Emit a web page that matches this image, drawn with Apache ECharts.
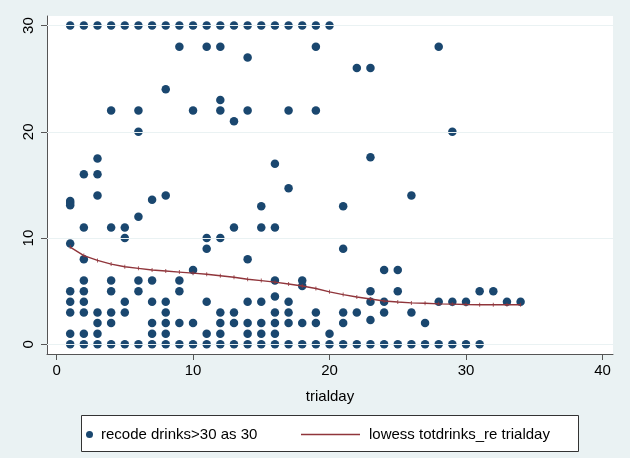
<!DOCTYPE html>
<html>
<head>
<meta charset="utf-8">
<script src="https://cdn.jsdelivr.net/npm/echarts@6/dist/echarts.min.js"></script>
<style>
html,body{margin:0;padding:0;background:#EAF2F3;}
#chart{width:630px;height:458px;}
</style>
</head>
<body>
<div id="chart"></div>
<script>
// ---- data ----
const trialDays = [1,2,3,4,5,6,7,8,9,10,11,12,13,14,15,16,17,18,19,20,21,22,23,24,25,26,27,28,29,30,31,32,33,34];
const drinksByDay = [
  [30,13.5,13.3,13.1,9.5,5,4,3,1,0],
  [30,16,11,8,6,5,4,3,1,0],
  [30,17.5,16,14,3,2,1,0],
  [30,22,11,6,5,3,2,0],
  [30,11,10,4,3,0],
  [30,22,20,12,6,5,0],
  [30,13.6,6,4,2,1,0],
  [30,24,14,4,3,2,1,0],
  [30,28,6,5,2,0],
  [30,22,7,2,0],
  [30,28,10,9,4,1,0],
  [30,28,23,22,10,3,2,1,0],
  [30,21,11,3,2,0],
  [30,27,22,8,4,2,1,0],
  [30,13,11,4,2,1,0],
  [30,17,11,6,4.5,3,2,1,0],
  [30,22,14.7,4,3,2,0],
  [30,6,5.5,2,0],
  [30,28,22,3,2,0],
  [30,1,0],
  [13,9,3,2,0],
  [26,3,0],
  [26,17.6,5,4,2.3,0],
  [7,4,3,0],
  [7,5,0],
  [14,3,0],
  [2,0],
  [28,4,0],
  [20,4,0],
  [4,0],
  [5,0],
  [5],
  [4],
  [4]
];
const lowessFit = [9.15,8.35,7.9,7.55,7.3,7.15,7.0,6.9,6.8,6.7,6.6,6.46,6.31,6.12,6.0,5.85,5.68,5.49,5.25,4.94,4.68,4.46,4.27,4.08,3.98,3.9,3.86,3.81,3.78,3.75,3.73,3.73,3.73,3.73];
const xTicks = [0,10,20,30,40];
const yTicks = [0,10,20,30];
const scatterName = 'recode drinks>30 as 30';
const lineName = 'lowess totdrinks_re trialday';
const xTitle = 'trialday';

// ---- build ----
const scatterData = [];
trialDays.forEach((d, i) => drinksByDay[i].forEach(v => scatterData.push([d, v])));
const lineData = trialDays.map((d, i) => [d, lowessFit[i]]);

const NAVY = '#1A476F', MAROON = '#90353B', BG = '#EAF2F3';
const FONT = 'Liberation Sans, Arial, Helvetica, sans-serif';

const chart = echarts.init(document.getElementById('chart'), null, {renderer: 'canvas'});
chart.setOption({
  backgroundColor: BG,
  animation: false,
  textStyle: {fontFamily: FONT},
  grid: {left: 47, right: 17, top: 16, bottom: 104, show: true, backgroundColor: '#ffffff', borderWidth: 0},
  xAxis: {
    type: 'value', min: -0.7, max: 40.77,
    splitLine: {show: false},
    axisLine: {show: true, onZero: false, lineStyle: {color: '#555', width: 1}},
    axisTick: {show: true, length: 6, customValues: xTicks, lineStyle: {color: '#555'}},
    axisLabel: {customValues: xTicks, color: '#000', fontSize: 15, margin: 9, fontFamily: FONT},
    name: xTitle, nameLocation: 'middle', nameGap: 35,
    nameTextStyle: {color: '#000', fontSize: 15, fontFamily: FONT}
  },
  yAxis: {
    type: 'value', min: -0.91, max: 30.9,
    splitLine: {show: false},
    axisLine: {show: true, onZero: false, lineStyle: {color: '#555', width: 1}},
    axisTick: {show: true, length: 6, customValues: yTicks, lineStyle: {color: '#555'}},
    axisLabel: {customValues: yTicks, color: '#000', fontSize: 15, margin: 11, rotate: 90, fontFamily: FONT}
  },
  legend: [
    {data: [scatterName], left: 86, top: 427, padding: 0, itemWidth: 13, itemHeight: 7,
     textStyle: {fontSize: 15, color: '#000', fontFamily: FONT}},
    {data: [{name: lineName, icon: 'rect'}], left: 301, top: 427, padding: 0, itemWidth: 59, itemHeight: 1.5,
     textStyle: {fontSize: 15, color: '#000', fontFamily: FONT, padding: [0,0,0,4]}}
  ],
  graphic: [{
    type: 'rect', z: -1, silent: true,
    shape: {x: 81.5, y: 415.5, width: 497, height: 36},
    style: {fill: '#ffffff', stroke: '#333', lineWidth: 1}
  }],
  series: [
    {
      type: 'line', name: 'grid', data: [], z: 1, silent: true,
      markLine: {
        silent: true, symbol: 'none', label: {show: false},
        lineStyle: {color: BG, width: 1.2, type: 'solid'},
        data: yTicks.map(v => ({yAxis: v}))
      }
    },
    {
      type: 'scatter', name: scatterName, data: scatterData, symbol: 'circle', symbolSize: 8.5,
      itemStyle: {color: NAVY, opacity: 1}, z: 3, clip: false
    },
    {
      type: 'line', name: lineName, data: lineData, showSymbol: false, symbol: 'none',
      lineStyle: {color: MAROON, width: 1.4}, itemStyle: {color: MAROON}, z: 4
    },
    {
      type: 'scatter', name: 'ticks', data: lineData, symbol: 'rect', symbolSize: [1, 4],
      itemStyle: {color: MAROON}, z: 4, silent: true
    }
  ]
});
</script>
</body>
</html>
